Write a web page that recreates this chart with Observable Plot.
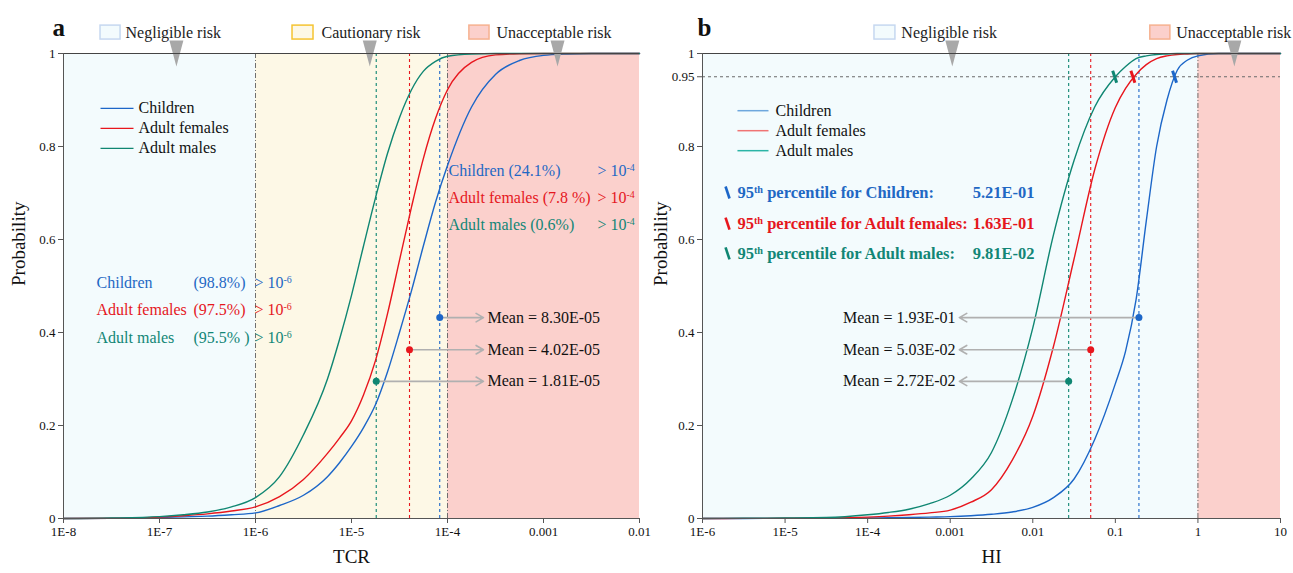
<!DOCTYPE html>
<html><head><meta charset="utf-8">
<script src="https://cdn.jsdelivr.net/npm/d3@7"></script>
<script src="https://cdn.jsdelivr.net/npm/@observablehq/plot@0.6"></script>
<style>
html,body{margin:0;padding:0;background:#fff;}
#wrap{display:flex;width:1293px;height:573px;overflow:hidden;}
</style></head><body><div id="wrap"></div>
<script>
// ---------------- DATA ----------------
const groups = ["Children", "Adult females", "Adult males"];

// Panel a: TCR cumulative probability
const tcrX = [1e-8, 3.16e-8, 1e-7, 1.78e-7, 3.16e-7, 5.62e-7, 1e-6, 1.78e-6, 3.16e-6, 5.62e-6, 7.5e-6, 1e-5, 1.33e-5, 1.78e-5, 2.37e-5, 3.16e-5, 4.22e-5, 5.62e-5, 7.5e-5, 1e-4, 1.78e-4, 3.16e-4, 5.62e-4, 1e-3, 1.78e-3, 3.16e-3, 1e-2];
const tcrChildren = [0, 0.0003, 0.002, 0.0035, 0.005, 0.008, 0.012, 0.028, 0.05, 0.09, 0.12, 0.155, 0.195, 0.245, 0.315, 0.40, 0.49, 0.587, 0.68, 0.759, 0.885, 0.955, 0.985, 0.996, 0.999, 1, 1];
const tcrFemales = [0, 0.0005, 0.003, 0.006, 0.01, 0.016, 0.025, 0.047, 0.084, 0.14, 0.173, 0.21, 0.265, 0.34, 0.44, 0.555, 0.67, 0.775, 0.86, 0.922, 0.981, 0.997, 0.9995, 1, 1, 1, 1];
const tcrMales = [0, 0.001, 0.004, 0.008, 0.014, 0.025, 0.045, 0.09, 0.18, 0.30, 0.385, 0.48, 0.585, 0.69, 0.785, 0.862, 0.922, 0.962, 0.983, 0.994, 0.999, 1, 1, 1, 1, 1, 1];
const tcrMeans = [8.30e-5, 4.02e-5, 1.81e-5];
const tcrMeanLabels = ["Mean = 8.30E-05", "Mean = 4.02E-05", "Mean = 1.81E-05"];
const tcrAbove1e4 = ["(24.1%)", "(7.8 %)", "(0.6%)"];
const tcrAbove1e6 = ["(98.8%)", "(97.5%)", "(95.5% )"];
const tcrTicks = [1e-8, 1e-7, 1e-6, 1e-5, 1e-4, 1e-3, 1e-2];
const tcrTickLabels = ["1E-8", "1E-7", "1E-6", "1E-5", "1E-4", "0.001", "0.01"];
const tcrRiskBounds = [1e-8, 1e-6, 1e-4, 1e-2];
const tcrRiskNames = ["Negligible risk", "Cautionary risk", "Unacceptable risk"];

// Panel b: HI cumulative probability
const hiX = [1e-6, 3.16e-6, 1e-5, 3.16e-5, 1e-4, 1.78e-4, 3.16e-4, 5.62e-4, 1e-3, 1.78e-3, 3.16e-3, 5.62e-3, 1e-2, 1.78e-2, 3.16e-2, 5.62e-2, 0.1, 0.133, 0.178, 0.237, 0.316, 0.422, 0.562, 0.75, 1, 1.78, 3.16, 10];
const hiChildren = [0, 0.0001, 0.0003, 0.0006, 0.001, 0.0015, 0.002, 0.003, 0.004, 0.006, 0.009, 0.014, 0.024, 0.045, 0.085, 0.17, 0.29, 0.36, 0.47, 0.64, 0.80, 0.90, 0.964, 0.986, 0.995, 1, 1, 1];
const hiFemales = [0, 0.0002, 0.0005, 0.001, 0.003, 0.005, 0.008, 0.012, 0.018, 0.035, 0.062, 0.125, 0.22, 0.37, 0.558, 0.75, 0.884, 0.925, 0.955, 0.976, 0.989, 0.995, 0.998, 0.999, 1, 1, 1, 1];
const hiMales = [0, 0.0005, 0.001, 0.002, 0.008, 0.013, 0.02, 0.032, 0.05, 0.085, 0.142, 0.254, 0.41, 0.61, 0.77, 0.885, 0.95, 0.972, 0.989, 0.995, 0.998, 0.999, 1, 1, 1, 1, 1, 1];
const hiMeans = [0.193, 0.0503, 0.0272];
const hiMeanLabels = ["Mean = 1.93E-01", "Mean = 5.03E-02", "Mean = 2.72E-02"];
const hiP95 = [0.521, 0.163, 0.0981];
const hiP95Labels = ["5.21E-01", "1.63E-01", "9.81E-02"];
const hiTicks = [1e-6, 1e-5, 1e-4, 1e-3, 1e-2, 1e-1, 1, 10];
const hiTickLabels = ["1E-6", "1E-5", "1E-4", "0.001", "0.01", "0.1", "1", "10"];
const hiRiskBounds = [1e-6, 1, 10];
const hiRiskNames = ["Negligible risk", "Unacceptable risk"];
const hiThreshold = 0.95;

const yTicks = [0, 0.2, 0.4, 0.6, 0.8, 1];
const yTickLabels = ["0", "0.2", "0.4", "0.6", "0.8", "1"];
const hiYTicks = [0, 0.2, 0.4, 0.6, 0.8, 0.95, 1];
const hiYTickLabels = ["0", "0.2", "0.4", "0.6", "0.8", "0.95", "1"];

// ---------------- STYLE / LAYOUT ----------------
const FONT = "'Liberation Serif','Times New Roman',serif";
const lineCol = ["#1c66c8", "#e8161d", "#0f8672"];
const textCol = ["#1f68c4", "#e5171d", "#128676"];
const legBCol = ["#6ea7dd", "#f07474", "#2bb4a6"];
const riskFill = {"Negligible risk": "#f3fbfd", "Cautionary risk": "#fdf8e6", "Unacceptable risk": "#fbd0cc"};
const riskStroke = {"Negligible risk": "#c6d8f0", "Cautionary risk": "#f5c431", "Unacceptable risk": "#f6b190"};
const meanY = [0.432, 0.363, 0.295];
const slash = {draw(ctx) { ctx.moveTo(-2, -6); ctx.lineTo(2, 6); }};
const downTri = {draw(ctx) { ctx.moveTo(-7, -13); ctx.lineTo(7, -13); ctx.lineTo(0, 13); ctx.closePath(); }};

const layA = {
  legX1: 2.43e-8, legX2: 5.36e-8, legText: 6.04e-8, legY: [0.882, 0.839, 0.796],
  hiBlockX: 1e-4, hiBlockGt: 3.65e-3, hiBlockY: [0.748, 0.690, 0.632],
  loName: 2.21e-8, loPct: 2.26e-7, loGt: 9.77e-7, loY: [0.507, 0.449, 0.389],
  arrowEnd: 2.37e-4, meanText: 2.61e-4,
  boxX1: [2.43e-8, 2.43e-6, 1.69e-4], boxX2: [3.93e-8, 4.02e-6, 2.74e-4], boxText: [4.43e-8, 4.87e-6, 3.24e-4],
  tri: [1.5e-7, 1.55e-5, 1.4e-3]
};
const layB = {
  legX1: 2.65e-6, legX2: 6.3e-6, legText: 7.66e-6, legY: [0.877, 0.834, 0.791],
  pMark: 2.01e-6, pText: 2.65e-6, pVal: 1.05e-2, pY: [0.701, 0.634, 0.570],
  arrowEnd: 1.29e-3, meanText: 1.16e-3,
  boxX1: [1.21e-4, 0.265], boxX2: [2.17e-4, 0.464], boxText: [2.56e-4, 0.547],
  tri: [1.06e-3, 2.76]
};
const boxY1 = 1.030, boxY2 = 1.060, boxTextY = 1.045;

function table(xs, ys) { return xs.map((x, j) => ({x, y: ys[j]})); }

function supers(svg) {
  d3.select(svg).selectAll("text").each(function() {
    if (this.querySelector("tspan")) return;
    const t = this.textContent;
    const m = t.match(/^(.*?)\^(\S+?)(\s.*)?$/);
    if (!m) return;
    const s = d3.select(this);
    s.text(null);
    s.append("tspan").text(m[1]);
    s.append("tspan").attr("baseline-shift", "super").attr("font-size", "0.62em").text(m[2]);
    if (m[3]) s.append("tspan").attr("xml:space", "preserve").text(m[3]);
  });
  return svg;
}

function frameMarks(xMin, ticks, tickLabels, yT, yTL, xLabel, letter, letterDx, ylabDx) {
  return [
    Plot.ruleY([1], {stroke: "#444", strokeWidth: 1.2}),
    Plot.ruleY([0], {stroke: "#555"}),
    Plot.ruleX([xMin], {y1: 0, y2: 1, stroke: "#555"}),
    Plot.axisX({ticks, tickFormat: d => tickLabels[ticks.indexOf(d)], tickSize: 5, tickPadding: 3, fontSize: 13, label: null, stroke: "#555"}),
    Plot.axisY({ticks: yT, tickFormat: d => yTL[yT.indexOf(d)], tickSize: 5, tickPadding: 3, fontSize: 13, label: null, stroke: "#555"}),
    Plot.text([xLabel], {frameAnchor: "bottom", dy: 44, fontSize: 19, fill: "#111"}),
    Plot.text(["Probability"], {frameAnchor: "left", dx: ylabDx, rotate: -90, fontSize: 19, fill: "#111"}),
    Plot.text([letter], {frameAnchor: "top-left", dx: letterDx, dy: -35, fontSize: 25, fontWeight: "bold", fill: "#111"})
  ];
}

function topLegend(names, lay) {
  return [
    Plot.rect(names, {x1: (d, i) => lay.boxX1[i], x2: (d, i) => lay.boxX2[i], y1: boxY1, y2: boxY2, fill: d => riskFill[d], stroke: d => riskStroke[d], strokeWidth: 1.5}),
    Plot.text(names, {x: (d, i) => lay.boxText[i], y: boxTextY, text: d => d, textAnchor: "start", fontSize: 16, fill: "#222"}),
    Plot.dot(lay.tri, {x: d => d, y: 1, symbol: downTri, fill: "#a8a8a8", stroke: "none"})
  ];
}

// ---------------- PANEL A ----------------
const tcrSeries = [tcrChildren, tcrFemales, tcrMales];
const plotA = Plot.plot({
  width: 650, height: 573,
  marginLeft: 63, marginRight: 11, marginTop: 53, marginBottom: 55,
  style: {fontFamily: FONT, fontSize: "13px", color: "#111", background: "transparent", overflow: "visible"},
  x: {type: "log", domain: [1e-8, 1e-2]},
  y: {domain: [0, 1]},
  color: {type: "identity"},
  marks: [
    Plot.rect(tcrRiskNames, {x1: (d, i) => tcrRiskBounds[i], x2: (d, i) => tcrRiskBounds[i + 1], y1: 0, y2: 1, fill: d => riskFill[d]}),
    Plot.ruleX([tcrRiskBounds[1], tcrRiskBounds[2]], {y1: 0, y2: 1, stroke: "#6f6f6f", strokeDasharray: "5,2,1,2"}),
    Plot.ruleX(tcrMeans, {y1: 0, y2: 1, stroke: (d, i) => lineCol[i], strokeDasharray: "3,3", strokeWidth: 1.1}),
    ...tcrSeries.map((s, i) => Plot.line(table(tcrX, s), {x: "x", y: "y", stroke: lineCol[i], strokeWidth: 1.4, curve: "monotone-x"})),
    Plot.arrow(tcrMeans, {x1: d => d, y1: (d, i) => meanY[i], x2: layA.arrowEnd, y2: (d, i) => meanY[i], stroke: "#b0b0b0", strokeWidth: 1.6, headLength: 8}),
    Plot.dot(tcrMeans, {x: d => d, y: (d, i) => meanY[i], r: 3.5, fill: (d, i) => lineCol[i], stroke: "none"}),
    Plot.text(tcrMeanLabels, {x: layA.meanText, y: (d, i) => meanY[i], text: d => d, textAnchor: "start", fontSize: 16, fill: "#111"}),
    // legend
    Plot.link(groups, {x1: layA.legX1, x2: layA.legX2, y1: (d, i) => layA.legY[i], y2: (d, i) => layA.legY[i], stroke: (d, i) => lineCol[i], strokeWidth: 1.3}),
    Plot.text(groups, {x: layA.legText, y: (d, i) => layA.legY[i], text: d => d, textAnchor: "start", fontSize: 16, fill: "#111"}),
    // > 1e-4 block
    Plot.text(groups, {x: layA.hiBlockX, y: (d, i) => layA.hiBlockY[i], text: (d, i) => d + " " + tcrAbove1e4[i], textAnchor: "start", dx: 1, fontSize: 16, fill: (d, i) => textCol[i]}),
    Plot.text(groups, {x: layA.hiBlockGt, y: (d, i) => layA.hiBlockY[i], text: () => "> 10^-4", textAnchor: "start", fontSize: 16, fill: (d, i) => textCol[i]}),
    // > 1e-6 block
    Plot.text(groups, {x: layA.loName, y: (d, i) => layA.loY[i], text: d => d, textAnchor: "start", fontSize: 16, fill: (d, i) => textCol[i]}),
    Plot.text(tcrAbove1e6, {x: layA.loPct, y: (d, i) => layA.loY[i], text: d => d, textAnchor: "start", fontSize: 16, fill: (d, i) => textCol[i]}),
    Plot.text(groups, {x: layA.loGt, y: (d, i) => layA.loY[i], text: () => "> 10^-6", textAnchor: "start", fontSize: 16, fill: (d, i) => textCol[i]}),
    ...topLegend(tcrRiskNames, layA),
    ...frameMarks(1e-8, tcrTicks, tcrTickLabels, yTicks, yTickLabels, "TCR", "a", -11, -45)
  ]
});

// ---------------- PANEL B ----------------
const hiSeries = [hiChildren, hiFemales, hiMales];
const plotB = Plot.plot({
  width: 643, height: 573,
  marginLeft: 52, marginRight: 13, marginTop: 53, marginBottom: 55,
  style: {fontFamily: FONT, fontSize: "13px", color: "#111", background: "transparent", overflow: "visible"},
  x: {type: "log", domain: [1e-6, 10]},
  y: {domain: [0, 1]},
  color: {type: "identity"},
  marks: [
    Plot.rect(hiRiskNames, {x1: (d, i) => hiRiskBounds[i], x2: (d, i) => hiRiskBounds[i + 1], y1: 0, y2: 1, fill: d => riskFill[d]}),
    Plot.ruleX([hiRiskBounds[1]], {y1: 0, y2: 1, stroke: "#6f6f6f", strokeDasharray: "5,2,1,2"}),
    Plot.ruleY([hiThreshold], {stroke: "#6a6a6a", strokeDasharray: "3,3"}),
    Plot.ruleX(hiMeans, {y1: 0, y2: 1, stroke: (d, i) => lineCol[i], strokeDasharray: "3,3", strokeWidth: 1.1}),
    ...hiSeries.map((s, i) => Plot.line(table(hiX, s), {x: "x", y: "y", stroke: lineCol[i], strokeWidth: 1.4, curve: "monotone-x"})),
    Plot.dot(hiP95, {x: d => d, y: hiThreshold, symbol: slash, fill: "none", stroke: (d, i) => lineCol[i], strokeWidth: 3}),
    Plot.arrow(hiMeans, {x1: d => d, y1: (d, i) => meanY[i], x2: layB.arrowEnd, y2: (d, i) => meanY[i], stroke: "#b0b0b0", strokeWidth: 1.6, headLength: 8}),
    Plot.dot(hiMeans, {x: d => d, y: (d, i) => meanY[i], r: 3.5, fill: (d, i) => lineCol[i], stroke: "none"}),
    Plot.text(hiMeanLabels, {x: layB.meanText, y: (d, i) => meanY[i], text: d => d, textAnchor: "end", fontSize: 16, fill: "#111"}),
    // legend
    Plot.link(groups, {x1: layB.legX1, x2: layB.legX2, y1: (d, i) => layB.legY[i], y2: (d, i) => layB.legY[i], stroke: (d, i) => legBCol[i], strokeWidth: 1.5}),
    Plot.text(groups, {x: layB.legText, y: (d, i) => layB.legY[i], text: d => d, textAnchor: "start", fontSize: 16, fill: "#111"}),
    // 95th percentile block
    Plot.dot(groups, {x: layB.pMark, y: (d, i) => layB.pY[i], symbol: slash, fill: "none", stroke: (d, i) => lineCol[i], strokeWidth: 2.6}),
    Plot.text(groups, {x: layB.pText, y: (d, i) => layB.pY[i], text: d => "95^th percentile for " + d + ":", textAnchor: "start", fontSize: 16.5, fontWeight: "bold", fill: (d, i) => textCol[i]}),
    Plot.text(hiP95Labels, {x: layB.pVal, y: (d, i) => layB.pY[i], text: d => d, textAnchor: "end", fontSize: 16.5, fontWeight: "bold", fill: (d, i) => textCol[i]}),
    ...topLegend(hiRiskNames, layB),
    ...frameMarks(1e-6, hiTicks, hiTickLabels, hiYTicks, hiYTickLabels, "HI", "b", -5, -42)
  ]
});

const wrap = document.getElementById("wrap");
wrap.appendChild(supers(plotA));
wrap.appendChild(supers(plotB));
</script></body></html>
